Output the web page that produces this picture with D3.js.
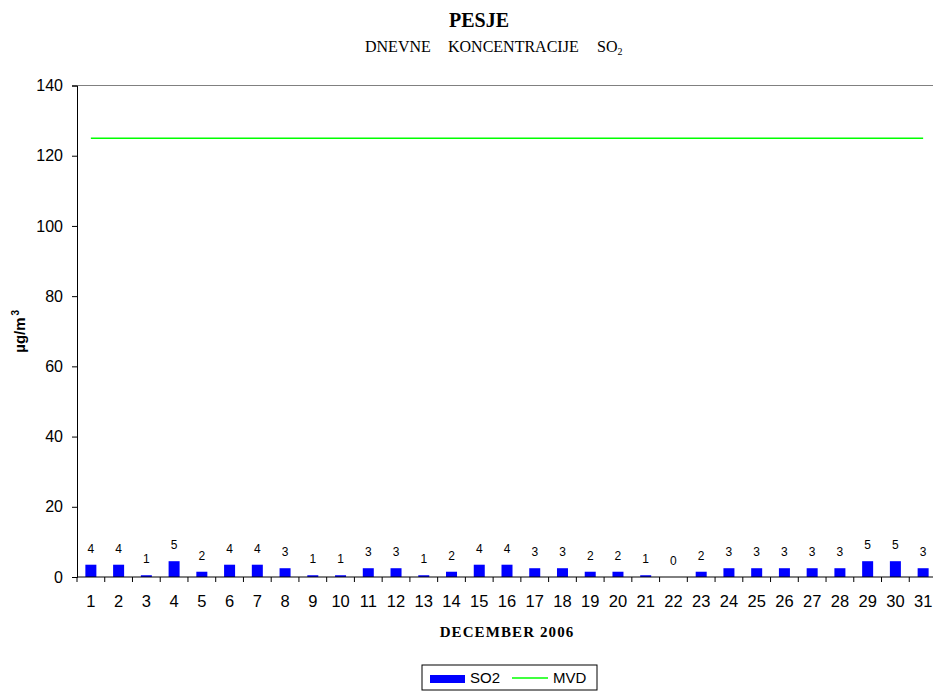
<!DOCTYPE html>
<html>
<head>
<meta charset="utf-8">
<script src="https://cdn.jsdelivr.net/npm/d3@7"></script>
<style>
  body { margin: 0; background: #fff; }
  svg { display: block; font-family: Arial, "Liberation Sans", sans-serif; }
</style>
</head>
<body>
<script>
const w = 933;
const h = 693;

// data
const days = d3.range(1, 32).map(String);
const so2 = [3.5, 3.5, 0.5, 4.5, 1.5, 3.5, 3.5, 2.5, 0.5, 0.5, 2.5, 2.5, 0.5, 1.5, 3.5, 3.5,
             2.5, 2.5, 1.5, 1.5, 0.5, 0, 1.5, 2.5, 2.5, 2.5, 2.5, 2.5, 4.5, 4.5, 2.5];
const mvd = 125;
const yTicks = [0, 20, 40, 60, 80, 100, 120, 140];

const plotLeft = 77, plotRight = 937, plotTop = 85.5, plotBottom = 577;
const serif = "'Liberation Serif', 'Times New Roman', serif";
const sans = "Arial, 'Liberation Sans', sans-serif";

const xScale = d3.scaleBand()
                 .domain(days)
                 .range([plotLeft, plotRight]);

const yScale = d3.scaleLinear()
                 .domain([0, 140])
                 .range([plotBottom, plotTop]);

const svg = d3.select("body")
              .append("svg")
              .attr("width", w)
              .attr("height", h);

// plot top border
svg.append("line")
   .attr("x1", plotLeft).attr("x2", plotRight)
   .attr("y1", plotTop).attr("y2", plotTop)
   .attr("stroke", "#808080");

// bars
const barW = 11;
svg.selectAll("rect.bar")
   .data(so2)
   .enter()
   .append("rect")
   .attr("class", "bar")
   .attr("x", (d, i) => xScale(days[i]) + xScale.bandwidth()/2 - barW/2)
   .attr("y", d => yScale(d))
   .attr("width", barW)
   .attr("height", d => yScale(0) - yScale(d))
   .attr("fill", "#0000ff");

// value labels
svg.selectAll("text.val")
   .data(so2)
   .enter()
   .append("text")
   .attr("class", "val")
   .attr("x", (d, i) => xScale(days[i]) + xScale.bandwidth()/2)
   .attr("y", d => yScale(d) - 12)
   .attr("text-anchor", "middle")
   .attr("font-size", 12)
   .text(d => Math.round(d));

// MVD line
svg.append("line")
   .attr("x1", xScale(days[0]) + xScale.bandwidth()/2)
   .attr("x2", xScale(days[days.length-1]) + xScale.bandwidth()/2)
   .attr("y1", yScale(mvd)).attr("y2", yScale(mvd))
   .attr("stroke", "#00ff00")
   .attr("stroke-width", 1.5);

// y axis
const yAxis = d3.axisLeft(yScale).tickValues(yTicks).tickSize(5).tickPadding(9);
svg.append("g")
   .attr("id", "y-axis")
   .attr("transform", "translate(" + plotLeft + ",0)")
   .call(yAxis)
   .call(g => g.selectAll("text").attr("font-size", 16).attr("fill", "#000").attr("font-family", sans));

// x axis (labels centred, ticks between categories)
const xAxis = d3.axisBottom(xScale).tickSize(0).tickPadding(18);
svg.append("g")
   .attr("id", "x-axis")
   .attr("transform", "translate(0," + plotBottom + ")")
   .call(xAxis)
   .call(g => g.select(".domain").remove())
   .call(g => g.selectAll("text").attr("font-size", 16.5).attr("fill", "#000").attr("font-family", sans));

svg.append("line")
   .attr("x1", plotLeft).attr("x2", plotRight)
   .attr("y1", plotBottom).attr("y2", plotBottom)
   .attr("stroke", "#000");

svg.selectAll("line.xtick")
   .data(days)
   .enter()
   .append("line")
   .attr("class", "xtick")
   .attr("x1", d => xScale(d)).attr("x2", d => xScale(d))
   .attr("y1", plotBottom).attr("y2", plotBottom + 5)
   .attr("stroke", "#000");

// titles
svg.append("text")
   .attr("x", 479).attr("y", 27)
   .attr("text-anchor", "middle")
   .attr("font-family", serif)
   .attr("font-weight", "bold")
   .attr("font-size", 20)
   .text("PESJE");

const sub = svg.append("text")
   .attr("y", 52)
   .attr("font-family", serif)
   .attr("font-size", 16);
sub.append("tspan").attr("x", 365).text("DNEVNE");
sub.append("tspan").attr("x", 448).text("KONCENTRACIJE");
sub.append("tspan").attr("x", 597).text("SO");
sub.append("tspan").attr("font-size", 10).attr("dy", 3).text("2");

svg.append("text")
   .attr("x", (plotLeft + plotRight)/2).attr("y", 637)
   .attr("text-anchor", "middle")
   .attr("font-family", serif)
   .attr("font-weight", "bold")
   .attr("font-size", 15)
   .attr("letter-spacing", 1.1)
   .text("DECEMBER 2006");

const yl = svg.append("text")
   .attr("transform", "translate(25," + ((plotTop + plotBottom)/2) + ") rotate(-90)")
   .attr("text-anchor", "middle")
   .attr("font-weight", "bold")
   .attr("font-size", 15);
yl.append("tspan").text("µg/m");
yl.append("tspan").attr("font-size", 10).attr("dy", -6).attr("dx", 2).text("3");

// legend
const lg = svg.append("g").attr("transform", "translate(422,665)");
lg.append("rect")
  .attr("width", 175).attr("height", 25)
  .attr("fill", "#fff").attr("stroke", "#000");
lg.append("rect")
  .attr("x", 8).attr("y", 10).attr("width", 35).attr("height", 8)
  .attr("fill", "#0000ff");
lg.append("text")
  .attr("x", 48).attr("y", 18)
  .attr("font-size", 15)
  .text("SO2");
lg.append("line")
  .attr("x1", 90).attr("x2", 126)
  .attr("y1", 13).attr("y2", 13)
  .attr("stroke", "#00ff00").attr("stroke-width", 1.5);
lg.append("text")
  .attr("x", 131).attr("y", 18)
  .attr("font-size", 15)
  .text("MVD");
</script>
</body>
</html>
